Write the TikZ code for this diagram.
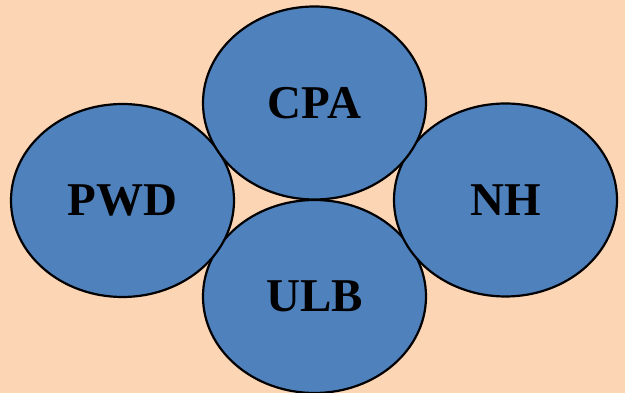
\documentclass[tikz,border=0pt]{standalone}
\usepackage{fontspec}
\setmainfont{Liberation Serif}
\usetikzlibrary{shapes.geometric}
\definecolor{bg}{HTML}{FCD5B5}
\definecolor{blob}{HTML}{4F81BD}
\begin{document}
\begin{tikzpicture}[x=1pt,y=1pt,
  blobnode/.style={draw=black,line width=2.2pt,fill=blob,ellipse,inner sep=0pt,
    minimum width=223pt,minimum height=193pt,
    font=\fontsize{47}{47}\selectfont\bfseries,text=black}]
\fill[bg] (0,0) rectangle (625,393);
\useasboundingbox (0,0) rectangle (625,393);
\node[blobnode] (ulb) at (314.5,96.5) {ULB};
\node[blobnode] (pwd) at (122.5,192.5) {PWD};
\node[blobnode] (nh) at (505.5,193) {NH};
\node[blobnode] (cpa) at (314.5,290) {CPA};
\end{tikzpicture}
\end{document}
